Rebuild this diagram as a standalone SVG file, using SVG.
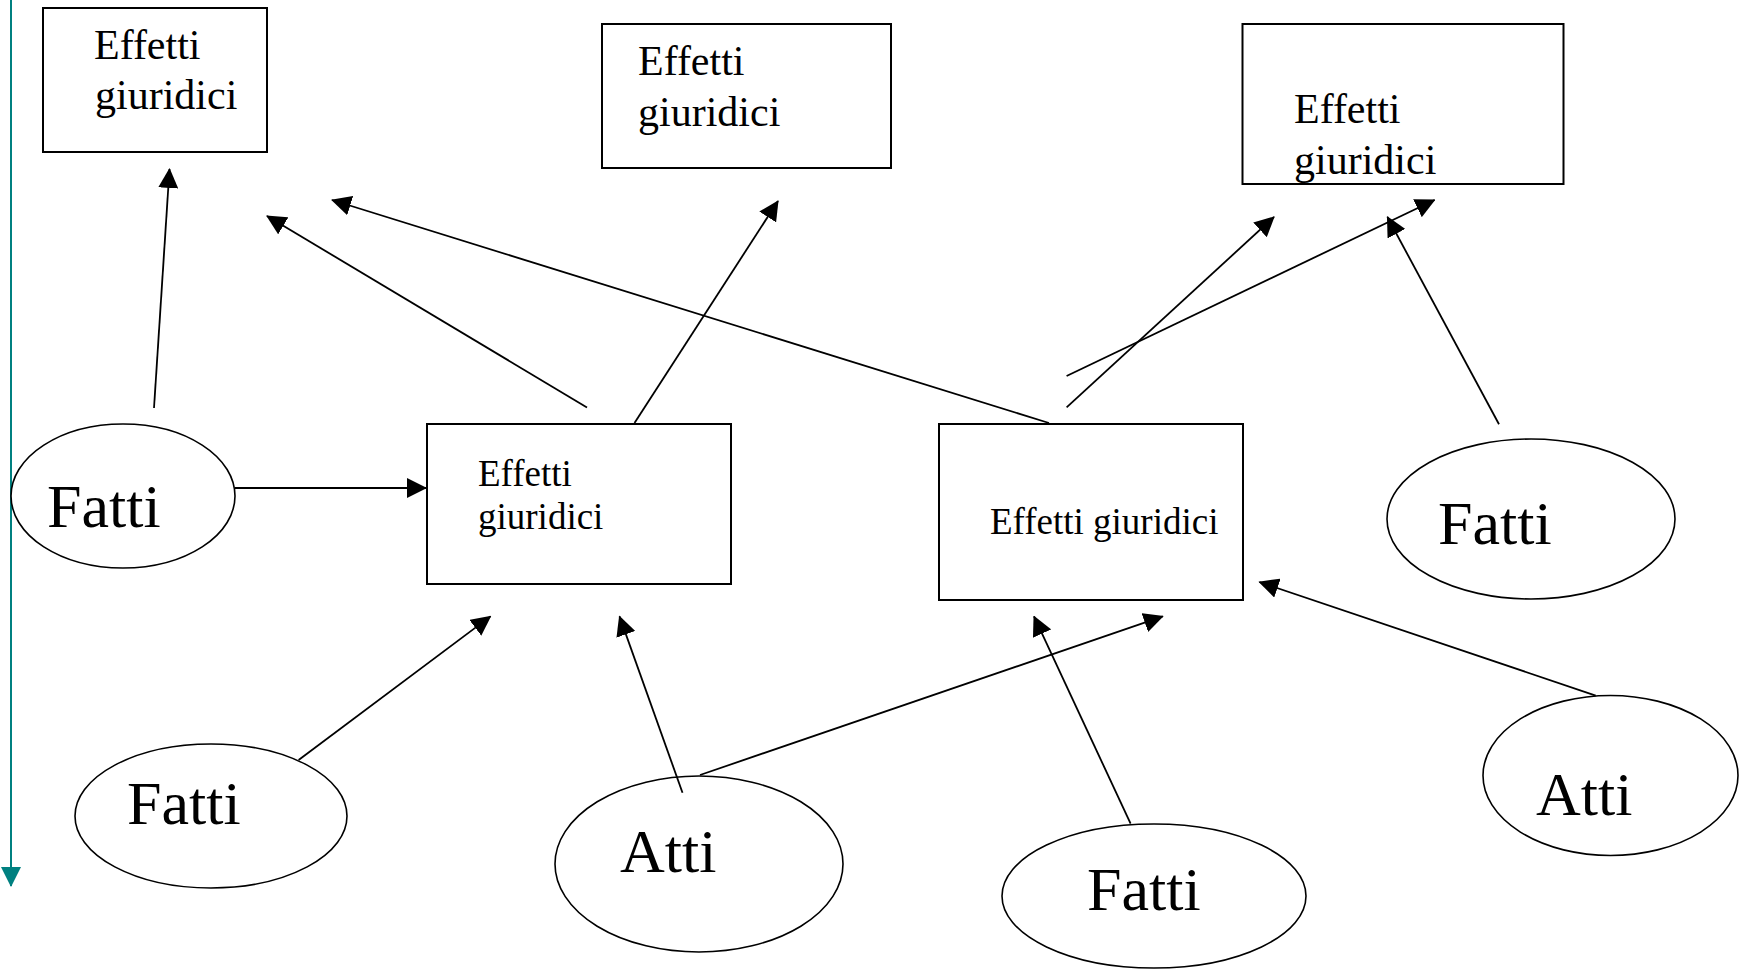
<svg xmlns="http://www.w3.org/2000/svg" width="1741" height="970" viewBox="0 0 1741 970">
  <style>
    .box { fill: #ffffff; stroke: #000000; stroke-width: 2; }
    .oval { fill: #ffffff; stroke: #000000; stroke-width: 1.6; }
    .edge { fill: none; stroke: #000000; stroke-width: 1.8; marker-end: url(#head); }
    .lbl { font-family: "Liberation Serif", "Times New Roman", serif; fill: #000000; }
    .big { font-size: 42px; }
    .mid { font-size: 37px; }
    .huge { font-size: 62px; }
  </style>
  <defs>
    <marker id="head" viewBox="0 0 20 20" markerUnits="userSpaceOnUse" markerWidth="20" markerHeight="20" refX="19" refY="10" orient="auto">
      <path d="M0,0 L20,10 L0,20 z" fill="#000000"/>
    </marker>
    <marker id="tealhead" viewBox="0 0 20 20" markerUnits="userSpaceOnUse" markerWidth="20" markerHeight="20" refX="19" refY="10" orient="auto">
      <path d="M0,0 L20,10 L0,20 z" fill="#008080"/>
    </marker>
  </defs>
  <rect width="1741" height="970" fill="#ffffff"/>

  <!-- left margin rule -->
  <line x1="11" y1="0" x2="11" y2="886" stroke="#008080" stroke-width="2" marker-end="url(#tealhead)"/>

  <!-- effect boxes -->
  <g id="effetti-tl">
    <rect class="box" x="43" y="8" width="224" height="144"/>
    <text class="lbl big" x="94" y="59">Effetti</text>
    <text class="lbl big" x="95" y="109">giuridici</text>
  </g>
  <g id="effetti-tc">
    <rect class="box" x="602" y="24" width="289" height="144"/>
    <text class="lbl big" x="638" y="75">Effetti</text>
    <text class="lbl big" x="638" y="126">giuridici</text>
  </g>
  <g id="effetti-tr">
    <rect class="box" x="1242.5" y="24" width="321" height="160"/>
    <text class="lbl big" x="1294" y="123">Effetti</text>
    <text class="lbl big" x="1294" y="174">giuridici</text>
  </g>
  <g id="effetti-m1">
    <rect class="box" x="427" y="424" width="304" height="160"/>
    <text class="lbl mid" x="478" y="486">Effetti</text>
    <text class="lbl mid" x="478" y="529">giuridici</text>
  </g>
  <g id="effetti-m2">
    <rect class="box" x="939" y="424" width="304" height="176"/>
    <text class="lbl mid" x="990" y="534">Effetti giuridici</text>
  </g>

  <!-- facts and acts -->
  <g id="fatti-left">
    <ellipse class="oval" cx="123" cy="496" rx="112" ry="72"/>
    <text class="lbl huge" x="47" y="527">Fatti</text>
  </g>
  <g id="fatti-bottom-left">
    <ellipse class="oval" cx="211" cy="816" rx="136" ry="72"/>
    <text class="lbl huge" x="127" y="824">Fatti</text>
  </g>
  <g id="atti-middle">
    <ellipse class="oval" cx="699" cy="864" rx="144" ry="88"/>
    <text class="lbl huge" x="620" y="872">Atti</text>
  </g>
  <g id="fatti-bottom">
    <ellipse class="oval" cx="1154" cy="896" rx="152" ry="72"/>
    <text class="lbl huge" x="1087" y="910">Fatti</text>
  </g>
  <g id="fatti-right">
    <ellipse class="oval" cx="1531" cy="519" rx="144" ry="80"/>
    <text class="lbl huge" x="1438" y="544">Fatti</text>
  </g>
  <g id="atti-right">
    <ellipse class="oval" cx="1610.5" cy="775.5" rx="127.5" ry="80"/>
    <text class="lbl huge" x="1536" y="815">Atti</text>
  </g>

  <!-- connectors, drawn over the shapes -->
  <g id="connectors">
    <line class="edge" x1="235" y1="488" x2="426" y2="488"/>
    <line class="edge" x1="154" y1="408" x2="169.5" y2="169"/>
    <line class="edge" x1="587" y1="407.5" x2="267" y2="216"/>
    <line class="edge" x1="634.5" y1="423" x2="778" y2="201"/>
    <line class="edge" x1="1049" y1="423" x2="332" y2="200"/>
    <line class="edge" x1="1066.6" y1="407.3" x2="1274" y2="217"/>
    <line class="edge" x1="1066.6" y1="376" x2="1434.6" y2="200"/>
    <line class="edge" x1="1499" y1="424.3" x2="1387.4" y2="217"/>
    <line class="edge" x1="298.6" y1="760" x2="490.5" y2="616.4"/>
    <line class="edge" x1="682.5" y1="792.7" x2="619.5" y2="616.4"/>
    <line class="edge" x1="700" y1="775" x2="1162.8" y2="616.4"/>
    <line class="edge" x1="1130.6" y1="823.6" x2="1034" y2="616.4"/>
    <line class="edge" x1="1595.7" y1="695.6" x2="1259.4" y2="582"/>
  </g>
</svg>
